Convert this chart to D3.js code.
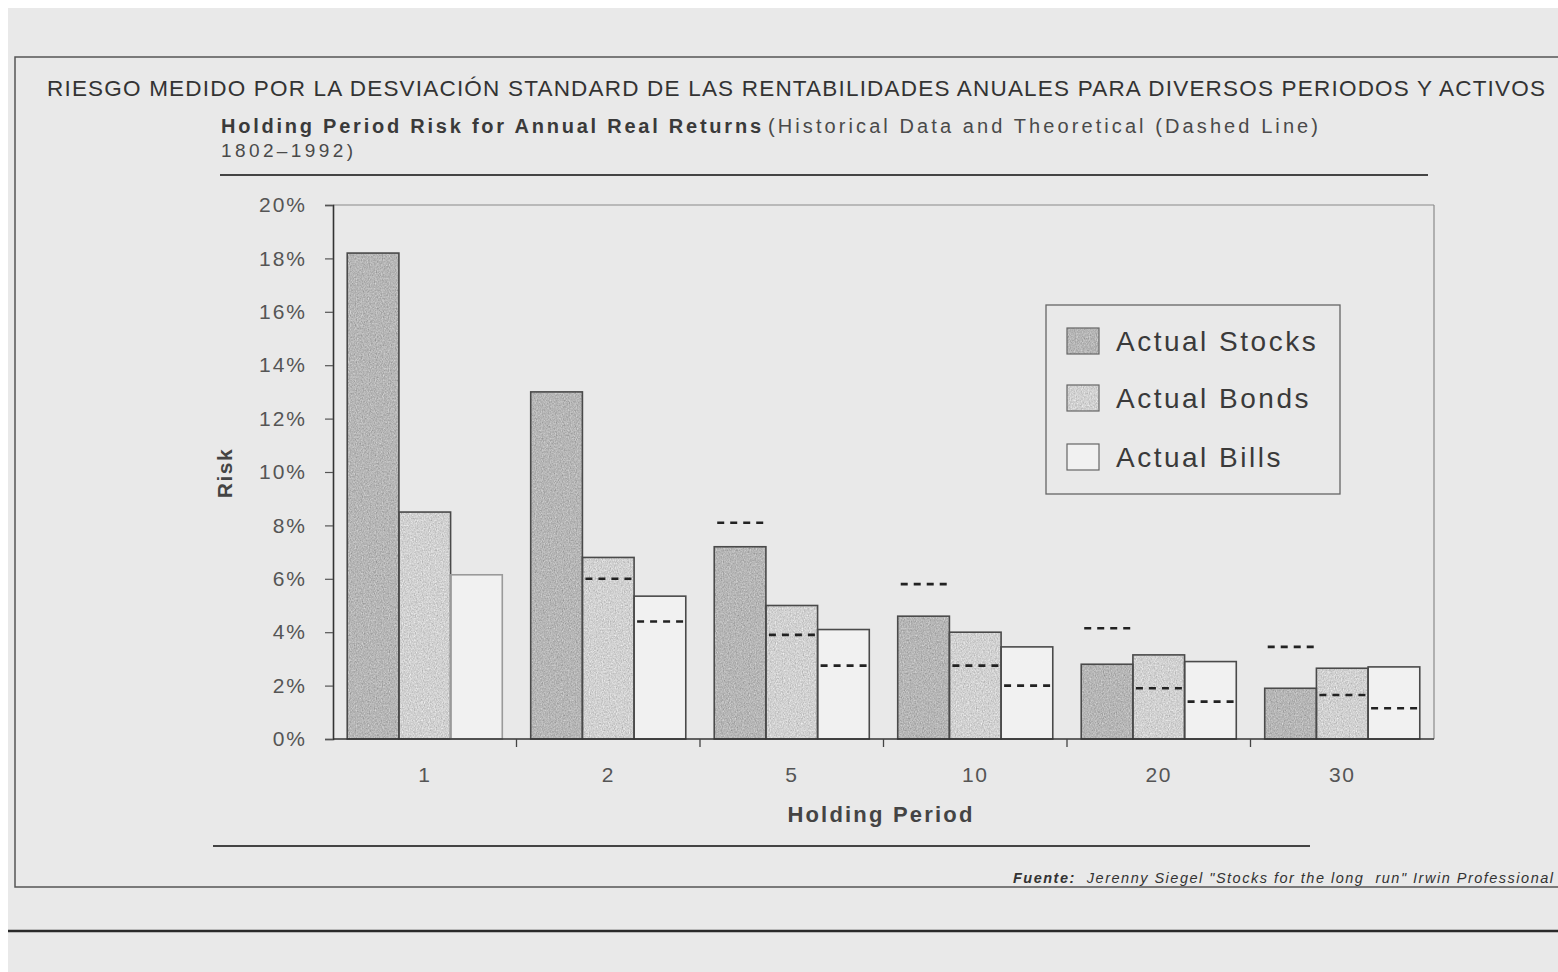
<!DOCTYPE html>
<html>
<head>
<meta charset="utf-8">
<script src="https://cdn.jsdelivr.net/npm/d3@7"></script>
<style>
  html, body { margin: 0; padding: 0; background: #ffffff; }
  svg { display: block; }
  text { font-family: "Liberation Sans", Arial, Helvetica, sans-serif; }
</style>
</head>
<body>
<svg id="chart" width="1558" height="972"></svg>
<script>
// Holding periods (years) on the x axis
const periods = ["1", "2", "5", "10", "20", "30"];
const seriesNames = ["Actual Stocks", "Actual Bonds", "Actual Bills"];

// Standard deviation of annual real returns (%), historical
const stocks = [18.2, 13.0, 7.2, 4.6, 2.8, 1.9];
const bonds  = [8.5, 6.8, 5.0, 4.0, 3.15, 2.65];
const bills  = [6.15, 5.35, 4.1, 3.45, 2.9, 2.7];

// Theoretical risk (dashed markers); null where no marker is drawn
const stocksTheory = [null, null, 8.1, 5.8, 4.15, 3.45];
const bondsTheory  = [null, 6.0, 3.9, 2.75, 1.9, 1.65];
const billsTheory  = [null, 4.4, 2.75, 2.0, 1.4, 1.15];

const yTicks = [0, 2, 4, 6, 8, 10, 12, 14, 16, 18, 20];

const titleText = "RIESGO MEDIDO POR LA DESVIACIÓN STANDARD DE LAS RENTABILIDADES ANUALES PARA DIVERSOS PERIODOS Y ACTIVOS";
const subtitleBold = "Holding Period Risk for Annual Real Returns";
const subtitleRest = "(Historical Data and Theoretical (Dashed Line)";
const subtitleLine2 = "1802\u20131992)";
const yLabel = "Risk";
const xLabel = "Holding Period";
const sourceBold = "Fuente:";
const sourceRest = "  Jerenny Siegel \"Stocks for the long  run\" Irwin Professional";

const actual = [stocks, bonds, bills];
const theory = [stocksTheory, bondsTheory, billsTheory];
const fills = ["#b5b5b5", "#d0d0d0", "#f1f1f1"];
const grainy = [true, true, false];

const svg = d3.select("#chart");
const paper = "#e9e9e9";

// ---- defs: paper grain for shaded bars ----
const defs = svg.append("defs");
const f = defs.append("filter").attr("id", "grain")
  .attr("x", 0).attr("y", 0).attr("width", "100%").attr("height", "100%")
  .attr("color-interpolation-filters", "sRGB");
f.append("feTurbulence").attr("type", "fractalNoise").attr("baseFrequency", "0.85 0.6")
  .attr("numOctaves", 2).attr("seed", 7).attr("result", "n");
f.append("feColorMatrix").attr("in", "n").attr("type", "matrix")
  .attr("values", "0.33 0.33 0.33 0 0  0.33 0.33 0.33 0 0  0.33 0.33 0.33 0 0  0 0 0 0 1")
  .attr("result", "g");
f.append("feComposite").attr("in", "SourceGraphic").attr("in2", "g")
  .attr("operator", "arithmetic").attr("k1", 0).attr("k2", 1).attr("k3", 0.55).attr("k4", -0.27)
  .attr("result", "m");
f.append("feComposite").attr("in", "m").attr("in2", "SourceAlpha").attr("operator", "in");

// ---- page ----
svg.append("rect").attr("x", 8).attr("y", 8).attr("width", 1550).attr("height", 964).attr("fill", paper);

// outer frame
svg.append("path")
  .attr("d", "M1558,57 H15 V887 H1558")
  .attr("fill", "none").attr("stroke", "#555").attr("stroke-width", 1.5);
// rule across the page below the frame
svg.append("line").attr("x1", 8).attr("x2", 1558).attr("y1", 931).attr("y2", 931)
  .attr("stroke", "#2a2a2a").attr("stroke-width", 2.5);

// ---- titles ----
svg.append("text").attr("x", 47).attr("y", 96)
  .attr("font-size", 22.5).attr("fill", "#333")
  .attr("textLength", 1498).attr("lengthAdjust", "spacing")
  .text(titleText);

svg.append("text").attr("x", 221).attr("y", 133)
  .attr("font-size", 20).attr("font-weight", "bold").attr("fill", "#3a3a3a")
  .attr("textLength", 540).attr("lengthAdjust", "spacing")
  .text(subtitleBold);
svg.append("text").attr("x", 768).attr("y", 133)
  .attr("font-size", 20).attr("fill", "#4a4a4a")
  .attr("textLength", 550).attr("lengthAdjust", "spacing")
  .text(subtitleRest);
svg.append("text").attr("x", 221).attr("y", 157)
  .attr("font-size", 19).attr("fill", "#4a4a4a")
  .attr("textLength", 132).attr("lengthAdjust", "spacing")
  .text(subtitleLine2);

svg.append("line").attr("x1", 220).attr("x2", 1428).attr("y1", 175).attr("y2", 175)
  .attr("stroke", "#444").attr("stroke-width", 2);
svg.append("line").attr("x1", 213).attr("x2", 1310).attr("y1", 846).attr("y2", 846)
  .attr("stroke", "#444").attr("stroke-width", 2);

// ---- scales ----
const plot = { left: 333, right: 1434, top: 205, bottom: 739 };
const y = d3.scaleLinear().domain([0, 20]).range([plot.bottom, plot.top]);
const x0 = d3.scaleBand().domain(periods).range([plot.left, plot.right])
  .paddingInner(0.155).paddingOuter(0.0775);
const x1 = d3.scaleBand().domain(d3.range(3)).range([0, x0.bandwidth()]);

// plot frame (top and right, faint)
svg.append("line").attr("x1", plot.left).attr("x2", plot.right).attr("y1", plot.top).attr("y2", plot.top)
  .attr("stroke", "#8a8a8a").attr("stroke-width", 1.2);
svg.append("line").attr("x1", plot.right).attr("x2", plot.right).attr("y1", plot.top).attr("y2", plot.bottom)
  .attr("stroke", "#8a8a8a").attr("stroke-width", 1.2);

// ---- bars ----
const barData = [];
periods.forEach((p, i) => {
  actual.forEach((arr, s) => barData.push({ p, s, v: arr[i], t: theory[s][i] }));
});

const bars = svg.append("g");
bars.selectAll("rect.fill").data(barData).join("rect")
  .attr("class", "fill")
  .attr("x", d => x0(d.p) + x1(d.s))
  .attr("width", x1.bandwidth())
  .attr("y", d => y(d.v))
  .attr("height", d => y(0) - y(d.v))
  .attr("fill", d => fills[d.s])
  .attr("filter", d => grainy[d.s] ? "url(#grain)" : null);
bars.selectAll("rect.edge").data(barData).join("rect")
  .attr("class", "edge")
  .attr("x", d => x0(d.p) + x1(d.s))
  .attr("width", x1.bandwidth())
  .attr("y", d => y(d.v))
  .attr("height", d => y(0) - y(d.v))
  .attr("fill", "none")
  .attr("stroke", d => d.s === 2 && d.p === "1" ? "#9a9a9a" : "#4a4a4a")
  .attr("stroke-width", 1.6);

// theoretical dashed markers
bars.selectAll("line.theory").data(barData.filter(d => d.t != null)).join("line")
  .attr("class", "theory")
  .attr("x1", d => x0(d.p) + x1(d.s) + 3)
  .attr("x2", d => x0(d.p) + x1(d.s) + x1.bandwidth() - 2)
  .attr("y1", d => y(d.t)).attr("y2", d => y(d.t))
  .attr("stroke", "#222").attr("stroke-width", 2.6)
  .attr("stroke-dasharray", "7,6");

// ---- axes ----
const yAxis = d3.axisLeft(y).tickValues(yTicks).tickSize(8).tickPadding(18)
  .tickFormat(d => d + "%");
const gy = svg.append("g").attr("transform", `translate(${plot.left},0)`).call(yAxis);
gy.select(".domain").attr("stroke", "#333").attr("stroke-width", 1.6);
gy.selectAll(".tick line").attr("stroke", "#555").attr("stroke-width", 1.2);
gy.selectAll(".tick text").attr("font-size", 21).attr("fill", "#555")
  .attr("letter-spacing", 2)
  .attr("font-family", "'Liberation Sans', Arial, sans-serif");

svg.append("line").attr("x1", plot.left).attr("x2", plot.right).attr("y1", plot.bottom).attr("y2", plot.bottom)
  .attr("stroke", "#333").attr("stroke-width", 1.6);

// separators between holding-period groups
const seps = periods.slice(1).map(p => x0(p) - x0.step() * x0.paddingInner() / 2);
svg.append("g").selectAll("line").data(seps).join("line")
  .attr("x1", d => d).attr("x2", d => d)
  .attr("y1", plot.bottom).attr("y2", plot.bottom + 8)
  .attr("stroke", "#444").attr("stroke-width", 1.3);

// category labels
svg.append("g").selectAll("text").data(periods).join("text")
  .attr("x", d => x0(d) + x0.bandwidth() / 2)
  .attr("y", 782)
  .attr("text-anchor", "middle")
  .attr("font-size", 21).attr("fill", "#555").attr("letter-spacing", 1.5)
  .text(d => d);

svg.append("text").attr("x", 881).attr("y", 822)
  .attr("text-anchor", "middle").attr("font-size", 22).attr("font-weight", "bold")
  .attr("fill", "#444").attr("letter-spacing", 2.2)
  .text(xLabel);

svg.append("text").attr("transform", "translate(232,473) rotate(-90)")
  .attr("text-anchor", "middle").attr("font-size", 21).attr("font-weight", "bold")
  .attr("fill", "#444").attr("letter-spacing", 1.5)
  .text(yLabel);

// ---- legend ----
const legend = svg.append("g");
legend.append("rect").attr("x", 1046).attr("y", 305).attr("width", 294).attr("height", 189)
  .attr("fill", "none").attr("stroke", "#666").attr("stroke-width", 1.3);
const rowsY = [341, 398, 457];
seriesNames.forEach((name, s) => {
  legend.append("rect").attr("x", 1067).attr("y", rowsY[s] - 13).attr("width", 32).attr("height", 26)
    .attr("fill", fills[s]).attr("filter", grainy[s] ? "url(#grain)" : null);
  legend.append("rect").attr("x", 1067).attr("y", rowsY[s] - 13).attr("width", 32).attr("height", 26)
    .attr("fill", "none").attr("stroke", "#666").attr("stroke-width", 1.2);
  legend.append("text").attr("x", 1116).attr("y", rowsY[s] + 10)
    .attr("font-size", 28).attr("fill", "#3a3a3a").attr("letter-spacing", 2.5)
    .text(name);
});

// ---- source note ----
const src = svg.append("text").attr("x", 1013).attr("y", 883)
  .attr("font-size", 14.5).attr("font-style", "italic").attr("fill", "#333")
  .attr("textLength", 540).attr("lengthAdjust", "spacing");
src.append("tspan").attr("font-weight", "bold").text(sourceBold);
src.append("tspan").style("white-space", "pre").text(sourceRest);
</script>
</body>
</html>
